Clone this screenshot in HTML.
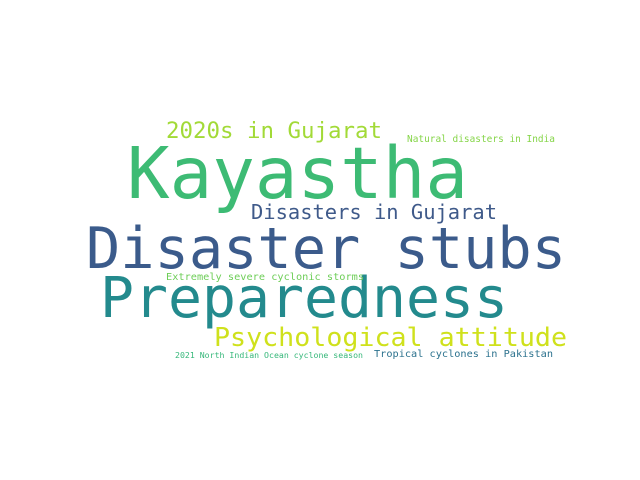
<!DOCTYPE html>
<html><head><meta charset="utf-8"><style>
html,body{margin:0;padding:0;background:#fff;}
svg{display:block;}
text{font-family:"DejaVu Sans Mono","Liberation Mono",monospace;}
</style></head><body>
<svg width="640" height="480">
<rect width="640" height="480" fill="#fff"/>
<text x="127" y="198" font-size="71" fill="#3dbb74" textLength="341" lengthAdjust="spacingAndGlyphs">Kayastha</text>
<text x="86" y="268" font-size="57" fill="#3b5b8b" textLength="480" lengthAdjust="spacingAndGlyphs">Disaster stubs</text>
<text x="100" y="317" font-size="56" fill="#238a8d" textLength="408" lengthAdjust="spacingAndGlyphs">Preparedness</text>
<text x="166" y="138" font-size="22" fill="#a2da37" textLength="216" lengthAdjust="spacingAndGlyphs">2020s in Gujarat</text>
<text x="251" y="219" font-size="20" fill="#3f5a8a" textLength="246" lengthAdjust="spacingAndGlyphs">Disasters in Gujarat</text>
<text x="214" y="346" font-size="26" fill="#cfe11c" textLength="353" lengthAdjust="spacingAndGlyphs">Psychological attitude</text>
<text x="407" y="142" font-size="9.5" fill="#86d549" textLength="148" lengthAdjust="spacingAndGlyphs">Natural disasters in India</text>
<text x="166" y="280" font-size="10" fill="#6ece58" textLength="198" lengthAdjust="spacingAndGlyphs">Extremely severe cyclonic storms</text>
<text x="374" y="357" font-size="10" fill="#2c728e" textLength="179" lengthAdjust="spacingAndGlyphs">Tropical cyclones in Pakistan</text>
<text x="175" y="358" font-size="8" fill="#35b779" textLength="188" lengthAdjust="spacingAndGlyphs">2021 North Indian Ocean cyclone season</text>
</svg>
</body></html>
